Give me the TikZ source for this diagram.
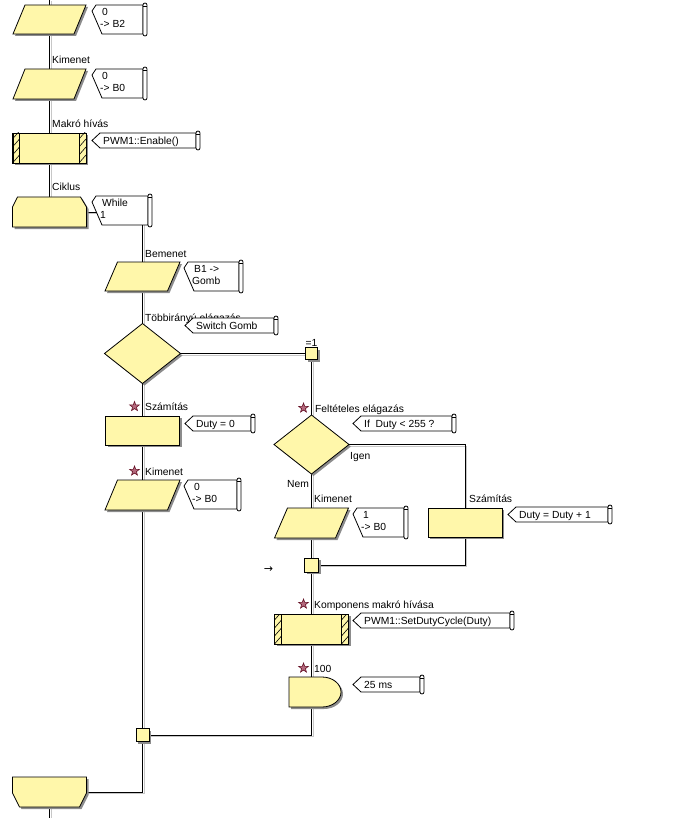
\documentclass[tikz,border=0pt]{standalone}
\usepackage{fontspec}
\setmainfont{Liberation Sans}
\newfontfamily\symfont{DejaVu Sans}
\usetikzlibrary{shapes.geometric,calc}
\definecolor{fc}{RGB}{255,247,170}
\definecolor{starline}{RGB}{100,15,35}
\definecolor{starfill}{RGB}{180,105,125}
\tikzset{
  bb/.style={inner sep=0pt, outer sep=0pt, draw=none},
  shp/.style={draw=black, line width=0.8pt, fill=fc},
  shd/.style={fill=black!45, draw=none},
  co/.style={draw=black, line width=0.8pt, fill=white},
  lbl/.style={inner sep=0pt, anchor=base west},
  mark star/.style={star, star points=5, star point ratio=2.4, minimum size=10pt, inner sep=0pt,
     draw=starline, fill=starfill, line width=0.6pt},
}
\newcommand\bbox[5]{\node[bb, minimum width=#4, minimum height=#5] (#1) at (#2,#3) {};}
\newcommand\shpath[1]{\fill[shd,transform canvas={shift={(2pt,-2pt)}}] #1; \draw[shp] #1;}
\newcommand\para[2]{\shpath{($(#1.north west)+(#2,0)$) -- (#1.north east) -- ($(#1.south east)+(-#2,0)$) -- (#1.south west) -- cycle}}
\newcommand\rectshape[1]{\shpath{(#1.north west) rectangle (#1.south east)}}
\newcommand\diam[1]{\shpath{(#1.north) -- (#1.east) -- (#1.south) -- (#1.west) -- cycle}}
\newcommand\hatch[2]{%
  \begin{scope}
    \clip (#1,#2) rectangle ++(7,30);
    \foreach \k in {-2,6,14,22,30,38} \draw[line width=0.6pt] (#1,#2+\k) -- ++(7,-8);
  \end{scope}
  \draw[line width=0.8pt] (#1,#2) rectangle ++(7,30);}
\newcommand\macrobox[1]{\rectshape{#1}}
\newcommand\capsule[3]{%
  \draw[co, rounded corners=2pt] (#1,#2-2) rectangle (#1+4,#3+2);
  \draw[line width=0.6pt] (#1,#2+1) -- (#1+4,#2+1);}
\newcommand\calloutA[4]{%
  \draw[co] (#1+8,#2) -- (#3,#2) -- (#3,#2+15) -- (#1+8,#2+15) -- (#1,#2+7.5) -- cycle;
  \capsule{#3}{#2}{#2+15}
  \node[lbl] at (#1+11,#2+11.5) {#4};}
\newcommand\calloutB[5]{%
  \draw[co] (#1+4,#2) -- (#3,#2) -- (#3,#2+29) -- (#1+10,#2+29) -- (#1,#2+6) -- cycle;
  \capsule{#3}{#2}{#2+29}
  \node[lbl] at (#1+10,#2+10.5) {#4};
  \node[lbl] at (#1+8,#2+22.5) {#5};}
\newcommand\links{%
  \draw (top) -- (P1.north);
  \draw (P1.south) -- (P2.north);
  \draw (P2.south) -- (M1.north);
  \draw (M1.south) -- (L1.north);
  \draw (L1.east) -| (P3.north);
  \draw (P3.south) -- (D1.north);
  \draw (D1.south) -- (R1.north);
  \draw (R1.south) -- (P4.north);
  \draw (P4.south) -- (J2.north);
  \draw (D1.east) -- (J1.west);
  \draw (J1.south) -- (D2.north);
  \draw (D2.east) -| (R2.north);
  \draw (D2.south) -- (P5.north);
  \draw (P5.south) -- (J3.north);
  \draw (R2.south) |- (J3.east);
  \draw (J3.south) -- (M2.north);
  \draw (M2.south) -- (M2.south |- DL.north);
  \draw (M2.south |- DL.south) |- (J2.east);
  \draw (J2.south) |- (LE.east);
  \draw (LE.south) -- (bot);
}
\begin{document}
\begin{tikzpicture}[x=1pt,y=-1pt, font=\fontsize{10.3}{12}\selectfont]
\useasboundingbox (0,0) rectangle (676,818);
% node frames
\coordinate (top) at (49.5,0);
\coordinate (bot) at (49.5,818);
\bbox{P1}{49.5}{19.5}{73}{29}
\bbox{P2}{49.5}{84}{73}{30}
\bbox{M1}{49.5}{148}{73}{30}
\bbox{L1}{49.5}{212}{74}{30}
\bbox{LE}{49.5}{792}{74}{30}
\bbox{P3}{142.5}{276.5}{75}{29}
\bbox{D1}{142.5}{353.5}{76}{60}
\bbox{R1}{142.5}{430.5}{74}{29}
\bbox{P4}{142.5}{495}{75}{30}
\bbox{J2}{142.5}{735}{13}{13}
\bbox{J1}{311.5}{353.5}{12}{12}
\bbox{D2}{311.5}{444.5}{75}{59}
\bbox{P5}{311.5}{523}{74}{30}
\bbox{R2}{465}{522.5}{74}{29}
\bbox{J3}{311.5}{565}{14}{14}
\bbox{M2}{311.5}{629}{74}{30}
\bbox{DL}{315}{692}{52}{30}
% connectors with soft shadow
\begin{scope}[transform canvas={shift={(1.5pt,-1.5pt)}}, color=black!22, line width=0.9pt]
  \links
\end{scope}
\begin{scope}[line width=0.9pt]
  \links
\end{scope}
% shapes
\para{P1}{12}
\para{P2}{12}
\macrobox{M1}
\hatch{12.5}{133}
\hatch{79}{133}
\shpath{($(L1.north west)+(5,0)$) -- ($(L1.north east)+(-6,0)$) -- ($(L1.north east)+(0,10)$) -- (L1.south east) -- (L1.south west) -- ($(L1.north west)+(0,10)$) -- cycle}
\shpath{(LE.north west) -- (LE.north east) -- ($(LE.south east)+(0,-14)$) -- ($(LE.south east)+(-7,0)$) -- ($(LE.south west)+(7,0)$) -- ($(LE.south west)+(0,-14)$) -- cycle}
\para{P3}{12.5}
\diam{D1}
\rectshape{R1}
\para{P4}{12.5}
\rectshape{J2}
\rectshape{J1}
\diam{D2}
\para{P5}{13}
\rectshape{R2}
\rectshape{J3}
\macrobox{M2}
\hatch{274.5}{614}
\hatch{341.5}{614}
\shpath{(DL.north west) -- ($(DL.north east)+(-19,0)$) arc[start angle=90, end angle=-90, x radius=19pt, y radius=15pt] -- (DL.south west) -- cycle}
% labels
\node[lbl] (t1) at (52,64) {Kimenet};
\node[lbl] (t2) at (52,128) {Makró hívás};
\node[lbl] (t3) at (52,191) {Ciklus};
\node[lbl] (t4) at (145,257) {Bemenet};
\node[lbl] (t5) at (145,321) {Többirányú elágazás};
\node[inner sep=0pt, anchor=base] (t6) at (311.5,346) {=1};
\node[lbl] (t7) at (145,410) {Számítás};
\node[mark star] (s1) at (134.5,406.5) {};
\node[lbl] (t8) at (145,475) {Kimenet};
\node[mark star] (s2) at (134.5,471) {};
\node[lbl] (t9) at (315,412) {Feltételes elágazás};
\node[mark star] (s3) at (303.5,408) {};
\node[lbl] (t10) at (350,459) {Igen};
\node[lbl] (t11) at (287,487) {Nem};
\node[lbl] (t12) at (314,502) {Kimenet};
\node[lbl] (t13) at (469,502) {Számítás};
\node[lbl] (t14) at (314,608) {Komponens makró hívása};
\node[mark star] (s4) at (303.5,604) {};
\node[lbl] (t15) at (314,672) {100};
\node[mark star] (s5) at (303.5,668) {};
\node[inner sep=0pt] (arr) at (268.5,570) {\symfont\fontsize{11}{12}\selectfont →};
% callouts
\calloutB{92}{5}{143}{0}{-> B2}
\calloutB{92}{69}{143}{0}{-> B0}
\calloutA{92}{133}{196}{PWM1::Enable()}
\calloutB{92}{196}{148}{While}{1}
\calloutB{184}{262}{239}{B1 ->}{Gomb}
\calloutA{185}{318}{274}{Switch Gomb}
\calloutA{185}{416}{251}{Duty = 0}
\calloutB{184}{480}{237}{0}{-> B0}
\calloutA{353}{416}{452}{If\ \ Duty < 255 ?}
\calloutB{353}{508}{404}{1}{-> B0}
\calloutA{508}{507}{608}{Duty = Duty + 1}
\calloutA{353}{613}{510}{PWM1::SetDutyCycle(Duty)}
\calloutA{353}{677}{420}{25 ms}
\end{tikzpicture}
\end{document}
